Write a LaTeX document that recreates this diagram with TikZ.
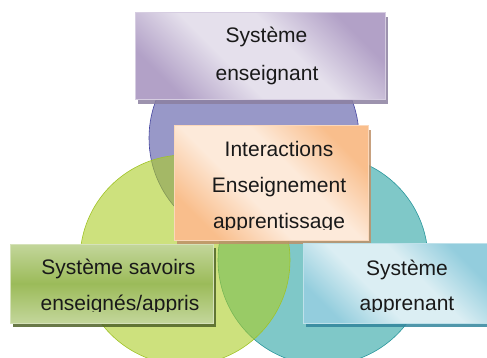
\documentclass[tikz,border=0pt]{standalone}
\usepackage{fontspec}
\setmainfont{Liberation Sans}
\usetikzlibrary{shadows}

\definecolor{bluefill}{RGB}{83,83,163}
\definecolor{blueline}{RGB}{70,70,160}
\definecolor{tealfill}{RGB}{41,163,163}
\definecolor{tealline}{RGB}{40,150,155}
\definecolor{greenfill}{RGB}{172,205,38}
\definecolor{greenline}{RGB}{160,195,40}

\definecolor{purpdark}{RGB}{178,161,199}
\definecolor{purplight}{RGB}{229,224,236}
\definecolor{purpshadow}{RGB}{140,128,160}
\definecolor{orgdark}{RGB}{249,190,140}
\definecolor{orglight}{RGB}{253,234,218}
\definecolor{orgshadow}{RGB}{190,145,105}
\definecolor{grndark}{RGB}{155,187,89}
\definecolor{grnlight}{RGB}{195,214,155}
\definecolor{grnshadow}{RGB}{79,98,40}
\definecolor{tldark}{RGB}{147,205,221}
\definecolor{tllight}{RGB}{219,238,243}
\definecolor{tlshadow}{RGB}{49,133,156}

% dark - light - dark bands
\pgfdeclareverticalshading{purpband}{100bp}{color(0bp)=(purpdark); color(25bp)=(purpdark);
  color(42bp)=(purplight); color(58bp)=(purplight); color(75bp)=(purpdark); color(100bp)=(purpdark)}
\pgfdeclareverticalshading{orgband}{100bp}{color(0bp)=(orgdark); color(25bp)=(orgdark);
  color(42bp)=(orglight); color(58bp)=(orglight); color(75bp)=(orgdark); color(100bp)=(orgdark)}
\pgfdeclareverticalshading{grnband}{100bp}{color(0bp)=(grnlight); color(25bp)=(grnlight);
  color(50bp)=(grndark); color(75bp)=(grnlight); color(100bp)=(grnlight)}
\pgfdeclareverticalshading{tlband}{100bp}{color(0bp)=(tldark); color(25bp)=(tldark);
  color(42bp)=(tllight); color(58bp)=(tllight); color(75bp)=(tldark); color(100bp)=(tldark)}

\begin{document}
\begin{tikzpicture}
[x=1pt,y=-1pt,
 circ/.style={draw, line width=0.6pt, fill opacity=0.6},
 box/.style={draw, line width=1pt, rectangle, inner sep=0pt},
 shad/.style={drop shadow={shadow xshift=3pt, shadow yshift=-4pt, fill=#1, opacity=0.85}},
 txt/.style={font=\fontsize{21}{25}\selectfont, anchor=base, text=black!90}]
\useasboundingbox (0,0) rectangle (487,358);

\draw[circ, draw=blueline, fill=bluefill] (254,138) circle (105pt);
\draw[circ, draw=tealline, fill=tealfill] (323,260) circle (105pt);
\draw[circ, draw=greenline, fill=greenfill] (185,260) circle (105pt);

\node (enseignant) at (260,56.5) [box, shad=purpshadow, draw=purplight!70!purpdark,
  minimum width=250pt, minimum height=87pt, shading=purpband, shading angle=-45] {};
\node (interactions) at (271,183) [box, shad=orgshadow, draw=orglight!60!orgdark,
  minimum width=194pt, minimum height=114pt, shading=orgband, shading angle=-45] {};
\node (savoirs) at (111.5,283.5) [box, shad=grnshadow, draw=grnlight!70!white,
  minimum width=203pt, minimum height=79pt, shading=grnband] {};
\node (apprenant) at (395,283) [box, shad=tlshadow, draw=tllight!60!tldark,
  minimum width=184pt, minimum height=80pt, shading=tlband, shading angle=-45] {};

\node (t1) at (266.5,43) [txt] {Système};
\node (t2) at (267,81) [txt] {enseignant};

\begin{scope}
\clip (interactions.north west) rectangle (368,229);
\node (t3) at (279,157) [txt] {Interactions};
\node (t4) at (279,193) [txt] {Enseignement};
\node (t5) at (279,228) [txt] {apprentissage};
\end{scope}

\begin{scope}
\clip (0,240) rectangle (487,311.5);
\node (t6) at (118.5,274) [txt] {Système savoirs};
\node (t7) at (120,310) [txt] {enseignés/appris};
\node (t8) at (407,275) [txt] {Système};
\node (t9) at (407,310) [txt] {apprenant};
\end{scope}
\end{tikzpicture}
\end{document}
